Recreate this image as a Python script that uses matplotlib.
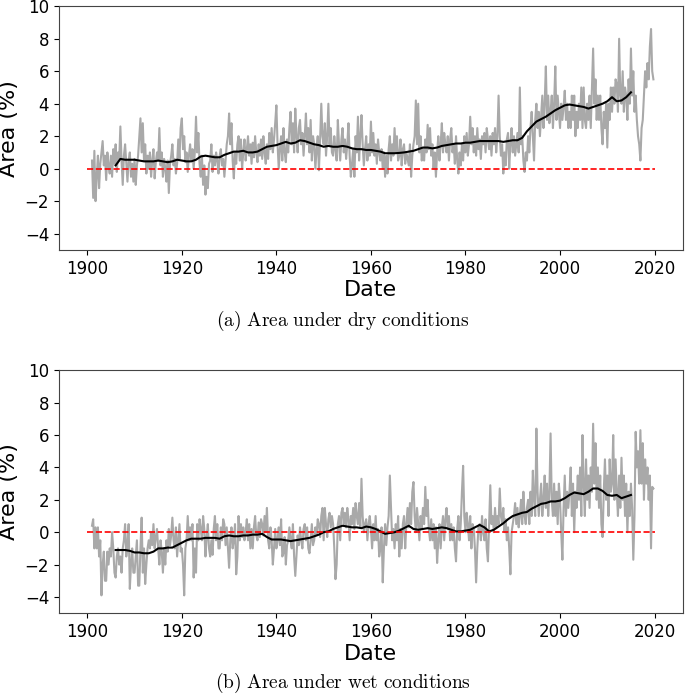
import numpy as np
import matplotlib
matplotlib.use("Agg")
import matplotlib.pyplot as plt

# ---------------- data ----------------
start_year = 1901
steps_per_year = 4

dry_quarterly = [
    0.5, -1.8, 1.1, -2.0,   -0.5, 0.8, -1.2, 0.3,   1.0, 1.7, 0.2, 0.8,   -0.7, 1.0, 0.2, -0.3,
    0.8, -0.5, 1.2, 0.3,    1.5, -0.2, 1.0, 0.5,    2.6, 0.5, -1.0, 0.8,  1.5, 0.3, -0.8, 0.5,
    1.0, -0.5, 0.3, -0.8,   0.6, -1.0, 0.2, 0.8,    2.0, 3.1, 1.0, 2.8,   0.5, 1.5, -0.3, 0.8,
    0.0, 1.0, -0.5, 0.5,    1.2, -0.6, 0.4, 1.0,    0.5, 2.5, 0.2, 1.0,   -0.5, 0.6, 0.0, -0.8,
    0.5, -1.5, 0.3, 0.8,    1.5, 0.2, 0.6, -0.3,    0.3, 1.8, 0.6, 2.5,   3.1, 1.2, 2.0, 0.4,
    1.0, -0.2, 0.8, 1.5,    0.5, 1.2, 0.0, 1.0,     3.2, 1.0, 2.2, 0.3,   -0.5, 0.8, -1.0, 0.2,
    -1.6, -0.5, -1.2, 0.3,  0.5, 1.5, -0.2, 0.8,    0.2, 1.0, 0.5, -0.3,  0.8, 1.2, 0.2, 0.6,
    -0.5, 0.5, 1.5, 2.0,    3.4, 1.5, 2.8, 0.5,     -0.6, 1.0, 0.3, 1.5,  2.0, 0.5, 1.8, 0.0,
    1.0, 1.8, 0.5, 1.2,     2.0, 0.8, 1.5, 0.3,     1.6, 0.7, 2.0, 1.0,   0.4, 1.5, 0.8, 1.8,
    0.6, 2.0, 1.0, 0.3,     1.5, 0.6, 2.2, 1.2,     2.5, 1.0, 1.8, 2.8,   3.9, 1.5, 0.0, 1.2,
    2.0, 0.5, 2.5, 1.0,     0.4, 1.8, 1.0, 2.5,     3.5, 1.5, 2.8, 1.0,   3.7, 2.0, 1.0, 2.5,
    3.0, 1.5, 2.2, 0.8,     2.0, 3.4, 1.5, 2.5,     1.0, 3.0, 0.5, 2.0,   1.5, 0.0, 1.2, 2.0,
    -0.1, 1.8, 4.0, 2.0,    1.5, 2.8, 0.8, 2.0,     4.0, 1.5, 2.5, 1.0,   0.8, 2.0, 1.2, 0.5,
    3.0, 1.5, 0.5, 1.8,     2.5, 1.0, 1.8, 0.6,     1.5, 2.8, 0.8, -0.5,  0.3, 1.2, -0.5, 2.0,
    1.0, 3.2, 0.5, 2.0,     3.3, 1.5, 0.2, 1.2,     2.0, 0.5, 1.5, 0.8,   2.9, 1.0, 2.2, 0.8,
    1.5, 0.3, 1.8, 1.0,     0.5, 1.2, 0.0, 1.0,     -0.5, 0.8, -0.3, 1.2, 2.0, 0.5, 1.5, 0.8,
    2.5, 1.0, 2.0, 0.5,     0.8, 1.8, 0.2, 1.2,     1.5, 0.3, 1.0, 0.6,   0.2, 1.5, -0.5, 0.8,
    1.5, 2.0, 4.2, 1.5,     4.0, 1.0, 2.0, 0.5,     1.2, 0.5, 1.8, 1.0,   2.7, 1.2, 2.5, 0.8,
    1.5, 0.0, 1.0, -0.5,    1.0, 2.0, 0.5, 1.5,     2.8, 1.0, 2.2, 1.5,   1.0, 2.0, 0.5, 1.8,
    2.5, 1.0, 1.5, 0.3,     2.0, 0.5, -0.3, 1.0,    0.2, 1.5, 0.5, 2.0,   1.0, 2.2, 0.8, 1.5,
    3.2, 1.5, 2.5, 1.0,     2.0, 0.8, 2.5, 1.2,     1.8, 0.6, 2.0, 1.5,   2.2, 1.0, 2.5, 1.8,
    1.2, 2.0, 0.8, 2.2,     1.5, 2.5, 1.0, 2.0,     4.5, 2.0, 0.8, 1.5,   -0.3, 1.0, 0.2, 1.8,
    2.2, 0.0, 1.5, 2.5,     1.0, 2.0, 0.8, 1.5,     2.2, 1.0, 5.0, 1.5,   2.0, 0.5, -0.2, 1.0,
    0.5, 2.0, 1.0, 2.5,     3.5, 2.0, 0.5, 3.0,     4.0, 2.5, 3.5, 2.0,   3.2, 4.5, 2.5, 4.0,
    6.3, 3.0, 4.5, 2.8,     3.5, 4.5, 2.5, 4.0,     6.3, 3.0, 4.5, 3.5,   2.5, 4.0, 3.0, 3.8,
    4.8, 3.0, 4.0, 2.5,     3.5, 2.5, 4.5, 3.0,     4.5, 2.0, 3.5, 2.5,   4.0, 3.0, 5.0, 2.5,
    5.0, 3.0, 2.5, 4.0,     3.0, 4.5, 2.5, 5.0,     7.4, 4.0, 5.5, 3.0,   4.5, 3.0, 4.5, 2.5,
    1.5, 3.5, 2.5, 4.0,     1.3, 4.0, 3.0, 5.0,     3.5, 5.0, 4.0, 5.5,   5.2, 3.5, 8.0, 4.5,
    4.0, 6.0, 3.5, 5.0,     4.5, 3.0, 5.5, 4.0,     7.4, 4.5, 6.0, 3.5,   4.5, 3.0, 2.0, 1.5,
    0.5, 2.5, 3.0, 4.5,     6.0, 5.0, 6.5, 5.5,     7.5, 8.6, 6.0, 5.5,
]

wet_quarterly = [
    0.4, 0.8, -1.0, 0.3,    -1.0, 0.3, -1.5, -0.5,  -3.9, -2.0, -1.2, -3.0, -3.0, -1.2, -2.0, -1.0,
    -1.5, 0.0, -1.0, -2.5,  -2.8, -1.5, -1.0, -2.0, -1.5, -2.5, -1.0, -0.5, 0.5, -1.5, -0.8, 0.5,
    -3.5, -2.0, -1.0, -2.5, -2.5, -1.5, -0.5, -3.3, -3.3, -1.0, 0.9, -2.5,  -1.0, -3.2, -2.0, -1.0,
    -0.5, -1.0, 0.0, -0.8,  0.5, -1.0, -0.3, 0.2,   -1.0, -2.0, -0.5, -1.2, -2.5, -1.0, -2.0, -0.5,
    -1.2, 0.2, -0.8, -0.2,  0.9, -0.5, -1.0, 0.3,   -1.5, -0.5, 0.5, -1.2,  -1.0, -2.0, -3.9, -1.0,
    -0.5, 1.0, -0.5, 0.3,   -0.5, 0.5, -2.8, -1.0,  -2.5, 0.5, -0.5, 0.8,   0.2, -0.5, 1.0, 0.2,
    -1.5, -0.3, 0.5, -1.0,  -1.5, -0.5, -1.4, 0.2,  1.0, -0.5, 0.5, -1.0,   -1.0, 0.3, -0.5, 0.8,
    0.5, -0.8, 0.3, -1.0,   -2.2, -0.5, 0.3, -1.0,  -0.5, 0.5, -2.6, -1.5,  1.0, -0.5, 0.5, -0.3,
    0.3, -0.5, 0.0, 0.8,    -0.5, 0.5, -1.0, 0.2,   -1.0, 0.3, 1.0, -0.2,   -0.5, 0.6, -0.3, 0.8,
    0.5, -0.2, 1.0, 0.0,    1.5, -0.5, -1.0, 0.3,   -0.5, -2.0, -1.0, 0.2,  -1.0, -0.5, 0.3, -0.8,
    0.8, -1.5, -1.3, -0.3,  -2.0, -0.8, -0.5, 0.3,  -0.5, -1.0, 0.5, -1.5,  -2.7, -1.5, -0.2, -0.8,
    0.3, -0.5, -1.0, 0.2,   0.5, -0.5, 0.3, -1.0,   -1.3, -0.5, 0.5, -0.8,  -0.5, 0.3, -0.2, 0.8,
    0.5, -0.3, 1.0, 1.5,    -0.5, 1.5, 0.5, -0.3,   0.8, 1.2, 0.3, 1.0,     0.5, -1.0, -2.9, -2.0,
    0.5, 1.0, -0.5, 1.2,    1.5, 0.5, 1.2, 0.3,     1.5, 0.8, -0.5, 1.0,    0.5, 1.5, 0.2, 1.8,
    1.0, 0.5, 1.8, 0.3,     3.3, 1.0, 0.0, 0.5,     0.8, -0.5, 0.5, 1.0,    0.2, -1.0, 0.5, -0.5,
    1.0, -0.5, 0.2, -1.5,   -1.0, 0.3, -3.1, -1.0,  0.5, -0.8, 0.3, 1.0,    3.5, 1.5, -0.5, 0.2,
    -1.0, 0.5, -0.5, 1.0,   -1.5, 0.2, -1.0, 0.5,   1.0, -1.0, 0.5, 1.5,    0.3, 1.8, 0.5, 2.5,
    3.1, 1.0, 0.0, 1.5,     0.5, -0.5, 1.0, 0.2,    1.5, 0.5, 2.8, 1.0,     2.0, 0.2, -0.5, 0.8,
    -0.5, 0.5, -1.0, 0.3,   -1.9, -0.5, 0.5, -1.0,  0.3, 1.0, -0.5, 0.8,    1.5, 0.2, 1.0, -0.5,
    0.5, -0.5, 0.3, -1.0,   -1.8, 0.2, 1.0, -0.5,   0.5, 2.5, 4.1, 1.0,     0.0, 1.2, 0.5, -0.5,
    1.0, -1.0, 0.5, 0.2,    -1.0, -3.1, -1.0, 0.3,  0.5, -0.5, 1.0, 0.0,    -0.5, 0.8, -1.0, -1.8,
    0.5, 2.9, 0.5, 1.0,     0.0, 1.5, 0.3, 1.0,     0.5, 2.7, 1.0, 0.5,     1.5, 0.0, 0.8, -0.5,
    0.3, -1.0, -2.6, 0.0,   0.5, 1.0, 1.8, 0.5,     1.5, 0.3, 1.0, 2.0,     0.5, 2.5, 1.0, 0.5,
    1.5, 2.0, 0.5, 2.5,     1.0, 3.8, 2.0, 1.0,     6.4, 2.5, 1.0, 2.0,     3.0, 1.0, 2.0, 3.5,
    1.5, 3.0, 1.0, 2.5,     6.1, 2.0, 1.0, 3.0,     1.0, 2.5, 0.5, 3.0,     2.0, 0.0, -1.7, 1.5,
    3.5, 1.0, 2.5, 1.5,     2.5, 4.0, 1.0, 3.0,     0.0, 2.5, 1.5, 3.5,     2.0, 4.0, 1.0, 6.0,
    3.0, 1.0, 4.5, 2.0,     3.5, 1.5, 4.0, 2.5,     6.7, 3.0, 5.5, 2.0,     4.0, 1.5, 3.5, 0.5,
    -0.3, 2.5, 4.5, 2.0,    3.5, 1.0, 4.5, 2.5,     3.0, 6.0, 2.0, 4.5,     2.5, 1.0, 3.5, 1.5,
    4.6, 2.0, 3.5, 1.0,     3.0, 0.0, 2.5, 1.0,     3.0, 1.5, -1.7, 1.0,    6.2, 4.0, 5.0, 3.0,
    6.3, 3.0, 5.5, 2.0,     4.5, 3.0, 4.0, 2.0,     3.5, -1.0, 2.8, 2.7,
]

# 10-year moving average (yearly readings), 1906-2015
ma_start_year = 1906
dry_ma = [
    0.2, 0.6, 0.55, 0.55, 0.55, 0.5, 0.45, 0.45, 0.45, 0.5,
    0.45, 0.4, 0.45, 0.55, 0.5, 0.45, 0.45, 0.55, 0.75, 0.8,
    0.75, 0.7, 0.7, 0.85, 0.95, 1.05, 1.05, 1.1, 1.0, 1.0,
    1.05, 1.2, 1.35, 1.4, 1.45, 1.55, 1.65, 1.55, 1.6, 1.75,
    1.7, 1.6, 1.5, 1.45, 1.35, 1.4, 1.35, 1.35, 1.4, 1.35,
    1.25, 1.2, 1.2, 1.15, 1.15, 1.1, 1.05, 0.95, 0.95, 0.95,
    0.97, 1.0, 1.05, 1.1, 1.2, 1.3, 1.3, 1.25, 1.3, 1.4,
    1.45, 1.5, 1.55, 1.55, 1.6, 1.6, 1.65, 1.7, 1.7, 1.7,
    1.7, 1.7, 1.65, 1.7, 1.75, 1.75, 1.9, 2.3, 2.6, 2.9,
    3.05, 3.2, 3.4, 3.6, 3.75, 3.9, 3.95, 3.9, 3.85, 3.8,
    3.7, 3.8, 3.9, 4.0, 4.15, 4.4, 4.15, 4.2, 4.4, 4.7,
]
wet_ma = [
    -1.1, -1.1, -1.1, -1.15, -1.25, -1.25, -1.3, -1.3, -1.2, -1.0,
    -1.0, -0.95, -0.95, -0.8, -0.65, -0.5, -0.4, -0.4, -0.4, -0.35,
    -0.35, -0.35, -0.4, -0.25, -0.2, -0.25, -0.25, -0.2, -0.2, -0.15,
    -0.15, -0.1, -0.3, -0.45, -0.45, -0.45, -0.5, -0.55, -0.5, -0.45,
    -0.4, -0.35, -0.25, -0.15, 0.0, 0.05, 0.2, 0.3, 0.4, 0.35,
    0.3, 0.3, 0.25, 0.35, 0.3, 0.2, 0.05, -0.1, -0.05, 0.0,
    0.1, 0.25, 0.4, 0.2, 0.15, 0.2, 0.25, 0.2, 0.25, 0.3,
    0.25, 0.15, 0.05, 0.05, 0.1, 0.15, 0.3, 0.45, 0.3, 0.05,
    0.15, 0.35, 0.55, 0.8, 1.0, 1.1, 1.2, 1.25, 1.45, 1.6,
    1.75, 1.8, 1.9, 1.9, 1.95, 2.1, 2.3, 2.45, 2.4, 2.35,
    2.5, 2.7, 2.7, 2.55, 2.3, 2.25, 2.3, 2.1, 2.2, 2.3,
]

zero_line_years = [1900, 2020]
y_ticks = [-4, -2, 0, 2, 4, 6, 8, 10]
x_ticks = [1900, 1920, 1940, 1960, 1980, 2000, 2020]
captions = [r"$\mathrm{(a)\ Area\ under\ dry\ conditions}$",
            r"$\mathrm{(b)\ Area\ under\ wet\ conditions}$"]

# ---------------- plotting ----------------
plt.rcParams["mathtext.fontset"] = "cm"
plt.rcParams["font.family"] = ["DejaVu Sans"]

fig = plt.figure(figsize=(6.85, 6.96), dpi=100)
ax_a = fig.add_axes([0.086, 0.641, 0.911, 0.350])
ax_b = fig.add_axes([0.086, 0.119, 0.911, 0.349])

t_ma = ma_start_year + np.arange(len(dry_ma))

for ax, grey, ma, cap, cap_y in [(ax_a, dry_quarterly, dry_ma, captions[0], 1 - 321 / 696),
                                 (ax_b, wet_quarterly, wet_ma, captions[1], 1 - 683 / 696)]:
    tg = start_year + np.arange(len(grey)) / steps_per_year
    ax.plot(tg, grey, color="darkgray", lw=1.5)
    ax.plot(t_ma, ma, color="black", lw=1.5)
    ax.plot(zero_line_years, [0, 0], color="red", ls="--", lw=1.2)
    ax.set_ylim(-5, 10)
    ax.set_yticks(y_ticks)
    ax.set_xticks(x_ticks)
    ax.tick_params(labelsize=12)
    ax.set_ylabel("Area (%)", fontsize=16)
    ax.set_xlabel("Date", fontsize=16, labelpad=2)
    for s in ax.spines.values():
        s.set_color("#444444")
    fig.text(0.5, cap_y, cap, ha="center", va="center", fontsize=14)

fig.savefig("out.png", dpi=100)
